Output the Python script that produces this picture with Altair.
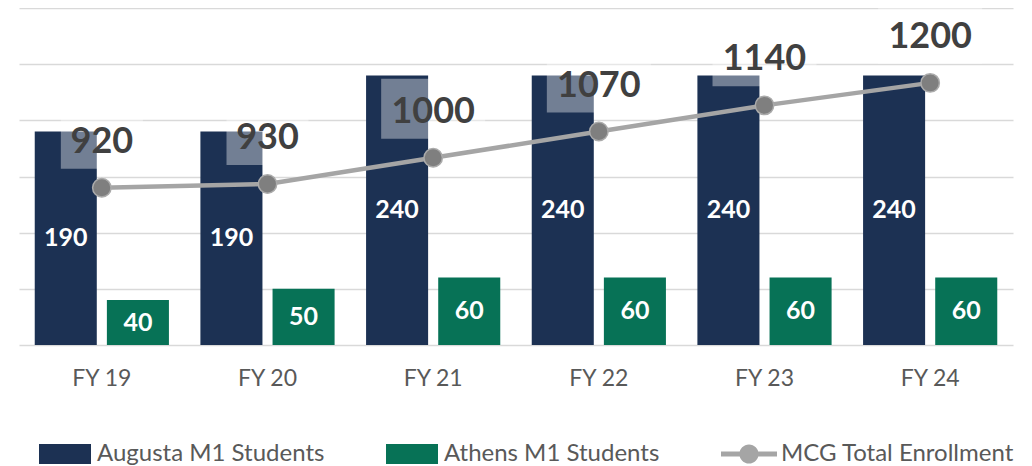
import altair as alt
import pandas as pd

years = ["FY 19", "FY 20", "FY 21", "FY 22", "FY 23", "FY 24"]
augusta = [190, 190, 240, 240, 240, 240]
athens = [40, 50, 60, 60, 60, 60]
total = [920, 930, 1000, 1070, 1140, 1200]
series = ["Augusta M1 Students", "Athens M1 Students", "MCG Total Enrollment"]
colors = ["#1c3153", "#077256", "#a5a5a5"]
grid_values = [0, 50, 100, 150, 200, 250, 300]

bars_df = pd.DataFrame({
    "Year": years * 2,
    "Series": [series[0]] * len(years) + [series[1]] * len(years),
    "Students": augusta + athens,
})
line_df = pd.DataFrame({"Year": years, "Total": total})
line_df["Label"] = line_df["Total"].astype(str)
legend_df = pd.DataFrame({"Series": series})

swatch = "M-1.3,-0.5H1.3V0.5H-1.3Z"
line_sym = ("M-1.4,-0.12H1.4V0.12H-1.4Z "
            "M0.48,0A0.48,0.48 0 1,1 -0.48,0A0.48,0.48 0 1,1 0.48,0Z")

x_axis = alt.Axis(title=None, labelAngle=0, ticks=False, tickSize=0, domain=False,
                  labelFont="Lato", labelFontSize=23, labelColor="#595959",
                  labelPadding=22)
x_enc = alt.X("Year:N", sort=years,
              scale=alt.Scale(paddingInner=0.19, paddingOuter=0.095),
              axis=x_axis)
xoff = alt.XOffset("Series:N", sort=series[:2],
                   scale=alt.Scale(paddingInner=0.14, paddingOuter=0))
left_scale = alt.Scale(domain=[0, 300], nice=False)
left_axis = alt.Axis(title=None, labels=False, ticks=False, domain=False,
                     values=grid_values, grid=True, gridColor="#d9d9d9",
                     gridWidth=1.5)
color_scale = alt.Scale(domain=series, range=colors)

legend_cfg = alt.Legend(title=None, orient="none", legendX=26, legendY=426,
                        direction="horizontal", columns=3, columnPadding=61,
                        symbolSize=1600, labelOffset=12, labelFont="Lato",
                        labelFontSize=24, labelColor="#595959", labelLimit=0,
                        symbolOpacity=1, symbolStrokeWidth=0, padding=0)

bars = alt.Chart(bars_df).mark_bar().encode(
    x=x_enc,
    xOffset=xoff,
    y=alt.Y("Students:Q", scale=left_scale, axis=left_axis),
    color=alt.Color("Series:N", scale=color_scale, legend=legend_cfg),
)
bar_text = alt.Chart(bars_df).transform_calculate(
    Mid="datum.Students / 2"
).mark_text(font="Lato", fontWeight="bold", fontSize=25, color="white",
            baseline="middle").encode(
    x=x_enc,
    xOffset=xoff,
    y=alt.Y("Mid:Q", scale=left_scale, axis=left_axis),
    text="Students:Q",
)
left = alt.layer(bars, bar_text)

right_scale = alt.Scale(domain=[500, 1400], nice=False, zero=False)
y_right = alt.Y("Total:Q", scale=right_scale, axis=None)

box3 = alt.Chart(line_df).transform_filter("length(datum.Label) == 3").mark_bar(
    width=82, color="white", opacity=0.38, yOffset=-79, y2Offset=-19
).encode(x=x_enc, y=y_right, y2=alt.Y2("Total:Q"))
box4 = alt.Chart(line_df).transform_filter("length(datum.Label) == 4").mark_bar(
    width=104, color="white", opacity=0.38, yOffset=-79, y2Offset=-19
).encode(x=x_enc, y=y_right, y2=alt.Y2("Total:Q"))
line = alt.Chart(line_df).mark_line(color="#a5a5a5", strokeWidth=4.5).encode(
    x=x_enc, y=y_right)
points = alt.Chart(line_df).mark_circle(size=340, color="#7f7f7f", opacity=1,
                                        stroke="#ababab", strokeWidth=1.5).encode(
    x=x_enc, y=y_right)
line_text = alt.Chart(line_df).mark_text(font="Lato", fontWeight="bold",
                                          fontSize=36, color="#404040",
                                          baseline="middle", dy=-46).encode(
    x=x_enc, y=y_right, text="Label:N")
right = alt.layer(box3, box4, line, points, line_text)

legend_layer = alt.Chart(legend_df).mark_point(filled=True, opacity=0).encode(
    color=alt.Color("Series:N", scale=color_scale, legend=legend_cfg),
    shape=alt.Shape("Series:N",
                    scale=alt.Scale(domain=series, range=[swatch, swatch, line_sym]),
                    legend=legend_cfg),
)

chart = alt.layer(left, right, legend_layer).resolve_scale(
    y="independent"
).properties(
    width=994, height=337,
    autosize=alt.AutoSizeParams(type="none"),
    padding={"left": 11, "top": 0, "right": 10, "bottom": 121},
    background="white",
).configure_view(stroke=None)

chart.save("out.html", embed_options={"renderer": "svg", "actions": False})
